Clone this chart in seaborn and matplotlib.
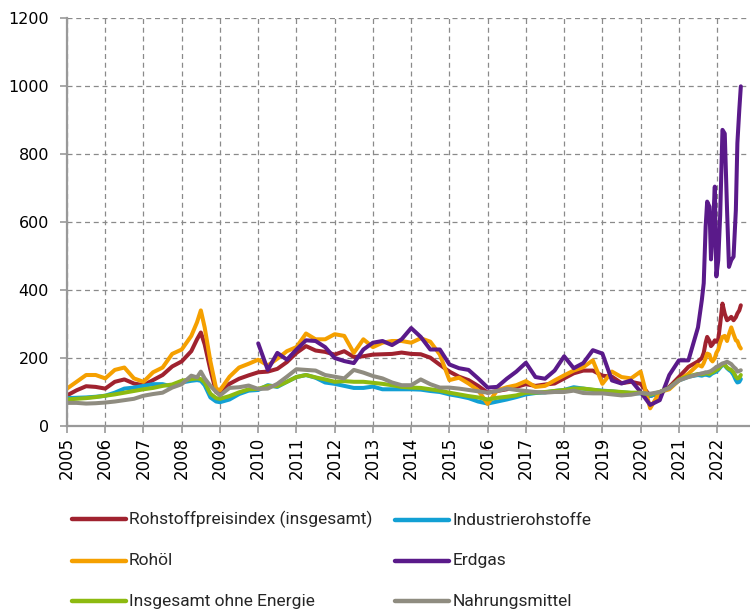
import numpy as np
import pandas as pd
import matplotlib
matplotlib.use("Agg")
import matplotlib.pyplot as plt
import seaborn as sns

# --- data (index values) ---
jahre = [2005.0, 2005.25, 2005.5, 2005.75, 2006.0, 2006.25, 2006.5, 2006.75,
         2007.0, 2007.25, 2007.5, 2007.75, 2008.0, 2008.25, 2008.4, 2008.5,
         2008.6, 2008.75, 2008.9, 2009.0, 2009.25, 2009.5, 2009.75, 2010.0,
         2010.25, 2010.5, 2010.75, 2011.0, 2011.25, 2011.5, 2011.75, 2012.0,
         2012.25, 2012.5, 2012.75, 2013.0, 2013.25, 2013.5, 2013.75, 2014.0,
         2014.25, 2014.5, 2014.75, 2015.0, 2015.25, 2015.5, 2015.75, 2016.0,
         2016.25, 2016.5, 2016.75, 2017.0, 2017.25, 2017.5, 2017.75, 2018.0,
         2018.25, 2018.5, 2018.75, 2019.0, 2019.25, 2019.5, 2019.75, 2020.0,
         2020.25, 2020.5, 2020.75, 2021.0, 2021.25, 2021.5, 2021.6, 2021.65,
         2021.7, 2021.74, 2021.8, 2021.84, 2021.88, 2021.94, 2021.98, 2022.03,
         2022.08, 2022.14, 2022.2, 2022.26, 2022.31, 2022.37, 2022.43, 2022.49,
         2022.53, 2022.58, 2022.62]

rohstoffindex = [90, 105, 117, 115, 110, 130, 137, 125, 120, 135, 150, 175,
                 190, 220, 255, 275, 240, 165, 100, 95, 124, 139, 149, 158,
                 160, 168, 188, 215, 235, 222, 218, 210, 220, 203, 205, 210,
                 211, 212, 216, 212, 211, 201, 180, 160, 145, 135, 118, 98,
                 103, 108, 115, 123, 118, 122, 125, 140, 155, 163, 163, 148,
                 145, 126, 130, 124, 88, 98, 115, 144, 174, 190, 200, 215,
                 245, 262, 250, 235, 240, 252, 248, 255, 300, 360, 330, 311,
                 315, 321, 311, 320, 331, 340, 355]

industrie = [82, 83, 84, 86, 89, 98, 110, 113, 118, 123, 123, 116, 128, 133,
             135, 133, 120, 84, 72, 70, 78, 94, 104, 106, 120, 115, 130, 144,
             150, 142, 128, 124, 118, 112, 112, 116, 108, 108, 108, 108, 107,
             103, 100, 93, 88, 82, 72, 66, 72, 78, 85, 93, 97, 99, 103, 106,
             114, 110, 106, 104, 102, 99, 97, 96, 88, 98, 112, 134, 145, 150,
             148, 150, 152, 150, 148, 152, 155, 158, 160, 165, 172, 180, 178,
             170, 165, 160, 150, 135, 128, 130, 138]

rohoel = [110, 130, 150, 150, 140, 165, 172, 140, 130, 158, 172, 212, 225,
          265, 305, 340, 290, 190, 110, 105, 145, 172, 183, 195, 178, 198,
          220, 232, 272, 255, 255, 270, 265, 215, 255, 232, 245, 250, 250,
          245, 258, 248, 210, 135, 142, 125, 105, 65, 105, 114, 120, 132,
          115, 118, 134, 149, 163, 173, 193, 124, 160, 144, 140, 160, 52,
          100, 108, 134, 154, 180, 175, 185, 200, 213, 210, 195, 190, 200,
          215, 225, 245, 262, 265, 250, 270, 290, 270, 252, 250, 235, 228]

erdgas = [np.nan] * 23 + [
    243, 165, 215, 195, 225, 252, 250, 232, 200, 191, 185, 225, 245, 250,
    238, 255, 288, 262, 225, 225, 181, 170, 165, 140, 113, 115, 139, 160,
    186, 144, 139, 163, 205, 170, 185, 223, 213, 134, 125, 134, 100, 62,
    76, 150, 193, 193, 290, 370, 420, 586, 660, 645, 490, 560, 704, 440,
    488, 620, 871, 860, 635, 468, 488, 498, 635, 832, 930, 999]

ohne_energie = [78, 80, 82, 85, 89, 93, 98, 103, 108, 112, 118, 122, 133,
                138, 140, 138, 128, 95, 82, 80, 88, 99, 108, 109, 118, 117,
                130, 144, 150, 143, 137, 130, 132, 130, 130, 127, 124, 120,
                115, 113, 112, 108, 104, 98, 93, 88, 84, 78, 83, 86, 90, 98,
                98, 100, 103, 106, 110, 110, 107, 103, 102, 100, 98, 98, 92,
                100, 112, 136, 146, 153, 152, 153, 155, 155, 153, 156, 158,
                162, 165, 168, 174, 182, 180, 172, 168, 165, 158, 145, 140,
                142, 150]

nahrung = [68, 68, 66, 67, 69, 72, 76, 80, 89, 94, 98, 113, 123, 148, 143,
           160, 140, 118, 100, 90, 112, 114, 119, 109, 110, 124, 145, 167,
           165, 163, 150, 145, 140, 165, 157, 147, 140, 128, 120, 120, 137,
           123, 113, 113, 110, 106, 102, 98, 103, 110, 106, 103, 100, 98,
           100, 100, 104, 97, 96, 96, 93, 90, 92, 97, 95, 100, 112, 134, 144,
           152, 155, 156, 158, 158, 160, 162, 165, 170, 174, 176, 180, 184,
           186, 189, 186, 182, 174, 168, 160, 162, 164]

reihen = ["Rohstoffpreisindex (insgesamt)", "Industrierohstoffe", "Rohöl",
          "Erdgas", "Insgesamt ohne Energie", "Nahrungsmittel"]
farben = ["#A0222F", "#12A0D4", "#F5A000", "#5A1A8A", "#8DBA10", "#8F8C80"]
jahres_ticks = list(range(2005, 2023))

werte = [rohstoffindex, industrie, rohoel, erdgas, ohne_energie, nahrung]
df = pd.concat(
    [pd.DataFrame({"Jahr": jahre, "Wert": w, "Reihe": name})
     for name, w in zip(reihen, werte)],
    ignore_index=True,
).dropna()

# --- plot ---
sns.set_style("white")
plt.rcParams["font.family"] = ["DejaVu Sans"]

fig = plt.figure(figsize=(7.5, 6.12), dpi=100)
ax = fig.add_axes([67 / 750, 1 - 426 / 612, 1 - 67 / 750, (426 - 18) / 612])

sns.lineplot(data=df, x="Jahr", y="Wert", hue="Reihe", hue_order=reihen,
             palette=farben, linewidth=2.9, ax=ax, sort=True, legend=True)

ax.set_xlim(2005, 2022.86)
ax.set_ylim(0, 1200)
ax.set_xticks(jahres_ticks)
ax.set_xticklabels([str(j) for j in jahres_ticks], rotation=90, va="top")
ax.set_yticks(range(0, 1201, 200))
ax.set_xlabel("")
ax.set_ylabel("")

for side in ["top", "right"]:
    ax.spines[side].set_visible(False)
for side in ["left", "bottom"]:
    ax.spines[side].set_color("#999999")
    ax.spines[side].set_linewidth(1.6)

ax.tick_params(axis="y", left=True, length=5, width=1.2, color="#999999",
               pad=8, labelsize=11.5, labelcolor="black")
ax.tick_params(axis="x", bottom=True, length=5, width=1.2, color="#999999",
               pad=3, labelsize=12, labelcolor="black")

# dashed grid in both directions
ax.set_axisbelow(True)
ax.grid(visible=True, which="major", axis="both", color="#8a8a8a",
        linestyle=(0, (4, 3)), linewidth=0.9)

# legend filled row by row like the original (matplotlib fills by column)
handles, labels = ax.get_legend_handles_labels()
ax.get_legend().remove()
for h in handles:
    h.set_linewidth(3.2)
order = [0, 2, 4, 1, 3, 5]
leg = fig.legend([handles[i] for i in order], [labels[i] for i in order],
                 loc="upper left", bbox_to_anchor=(63 / 750, 1 - 502 / 612),
                 ncol=2, frameon=False,
                 handlelength=3.1, handletextpad=0.2, columnspacing=1.3,
                 labelspacing=1.47, borderpad=0,
                 prop={"family": ["Roboto", "DejaVu Sans"], "size": 12.5})
# centre the text on its line sample
for col in leg._legend_handle_box.get_children():
    for item in col.get_children():
        item.align = "center"

fig.savefig("out.png", dpi=100)
